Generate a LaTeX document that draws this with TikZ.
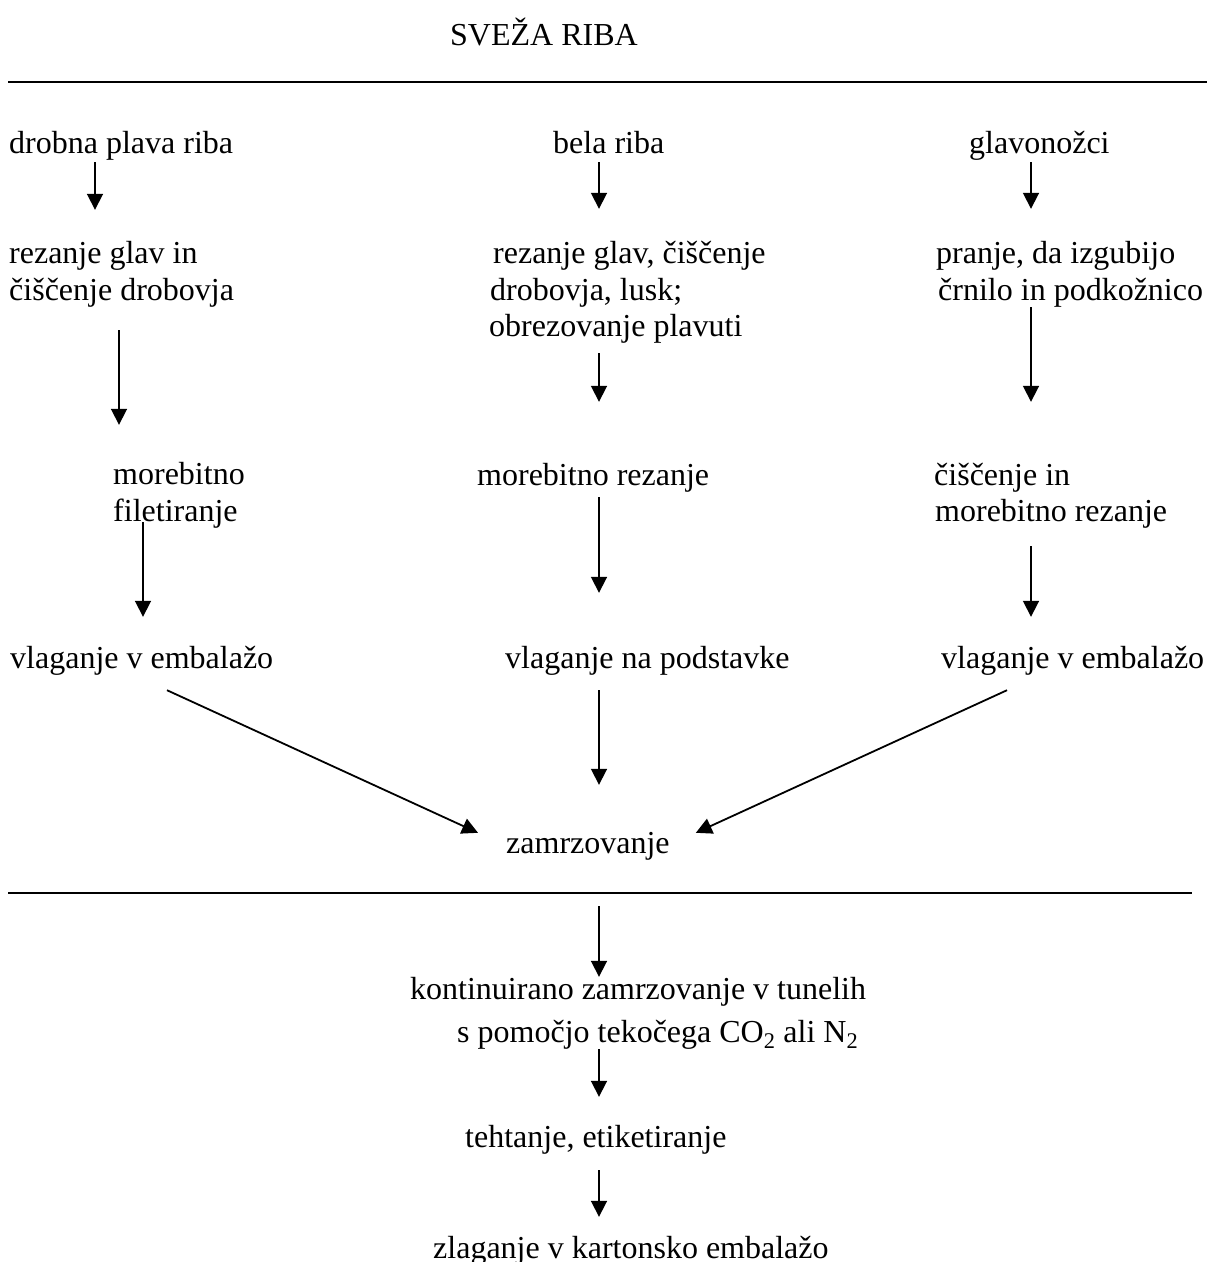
\documentclass[tikz,border=0pt]{standalone}
\usepackage{fontspec}
\setmainfont{Liberation Serif}
\usepackage{tikz}
\usetikzlibrary{arrows.meta,positioning,calc}

\begin{document}
\begin{tikzpicture}[x=1pt,y=-1pt,
	txt/.style={anchor=base west,inner sep=0pt,text height=22pt,text depth=7pt,
		font=\fontsize{32}{38}\selectfont},
	arr/.style={line width=1.8pt,-{Triangle[length=16pt,width=16pt]}},
	rule/.style={line width=1.8pt}]
	\useasboundingbox (0,0) rectangle (1207,1262);
	
	% Title and top rule
	\node[txt] (title) at (450,45) {SVEŽA RIBA};
	\draw[rule] (8,82) -- (1207,82);
	
	% Row 1: raw material
	\node[txt] (dpr) at (9,153) {drobna plava riba};
	\node[txt] (bel) at (553,153) {bela riba};
	\node[txt] (glv) at (969,153) {glavonožci};
	
	% Row 2: first treatment
	\node[txt] (rg1) at (9,263) {rezanje glav in};
	\node[txt] (rg2) at (9,300) {čiščenje drobovja};
	\node[txt] (rb1) at (493,263) {rezanje glav, čiščenje};
	\node[txt] (rb2) at (490,300) {drobovja, lusk;};
	\node[txt] (rb3) at (489,336) {obrezovanje plavuti};
	\node[txt] (pr1) at (936,263) {pranje, da izgubijo};
	\node[txt] (pr2) at (938,300) {črnilo in podkožnico};
	
	% Row 3: cutting
	\node[txt] (mf1) at (113,484) {morebitno};
	\node[txt] (mf2) at (113,521) {filetiranje};
	\node[txt] (mr) at (477,485) {morebitno rezanje};
	\node[txt] (cr1) at (934,485) {čiščenje in};
	\node[txt] (cr2) at (935,521) {morebitno rezanje};
	
	% Row 4: packing
	\node[txt] (veL) at (10,668) {vlaganje v embalažo};
	\node[txt] (vnp) at (505,668) {vlaganje na podstavke};
	\node[txt] (veR) at (941,668) {vlaganje v embalažo};
	
	% freezing
	\node[txt] (zam) at (506,853) {zamrzovanje};
	\draw[rule] (8,893) -- (1192,893);
	
	% lower chain
	\node[txt] (kon1) at (410,999) {kontinuirano zamrzovanje v tunelih};
	\node[txt] (kon2) at (457,1042) {s pomočjo tekočega CO\textsubscript{2} ali N\textsubscript{2}};
	\node[txt] (teh) at (465,1147) {tehtanje, etiketiranje};
	\node[txt] (zla) at (433,1258) {zlaganje v kartonsko embalažo};
	
	% arrows, left column
	\draw[arr,shorten <=2pt,shorten >=31pt] (dpr.south -| 95,0) -- (rg1.north -| 95,0);
	\draw[arr,shorten <=23pt,shorten >=37pt] (rg2.south -| 119,0) -- (mf1.north -| 119,0);
	\draw[arr,shorten <=-6pt,shorten >=29pt] (mf2.south -| 143,0) -- (veL.north -| 143,0);
	
	% arrows, middle column
	\draw[arr,shorten <=2pt,shorten >=32pt] (bel.south -| 599,0) -- (rb1.north -| 599,0);
	\draw[arr,shorten <=10pt,shorten >=61pt] (rb3.south -| 599,0) -- (mr.north -| 599,0);
	\draw[arr,shorten <=5pt,shorten >=53pt] (mr.south -| 599,0) -- (vnp.north -| 599,0);
	\draw[arr,shorten <=15pt,shorten >=46pt] (vnp.south -| 599,0) -- (zam.north -| 599,0);
	
	% arrows, right column
	\draw[arr,shorten <=2pt,shorten >=32pt] (glv.south -| 1031,0) -- (pr1.north -| 1031,0);
	\draw[arr,shorten >=61pt] (pr2.south -| 1031,0) -- (cr1.north -| 1031,0);
	\draw[arr,shorten <=18pt,shorten >=29pt] (cr2.south -| 1031,0) -- (veR.north -| 1031,0);
	
	% arrows into freezing
	\draw[arr] ($(veL.south west)+(157,15)$) -- ($(zam.north west)+(-28,2)$);
	\draw[arr] ($(veR.south west)+(66,15)$) -- ($(zam.north east)+(26,2)$);
	
	% arrows, lower chain
	\draw[arr,shorten <=46pt] (zam.south -| 599,0) -- (kon1.north -| 599,0);
	\draw[arr,shorten >=28pt] (kon2.south -| 599,0) -- (teh.north -| 599,0);
	\draw[arr,shorten <=16pt,shorten >=19pt] (teh.south -| 599,0) -- (zla.north -| 599,0);
\end{tikzpicture}
\end{document}
